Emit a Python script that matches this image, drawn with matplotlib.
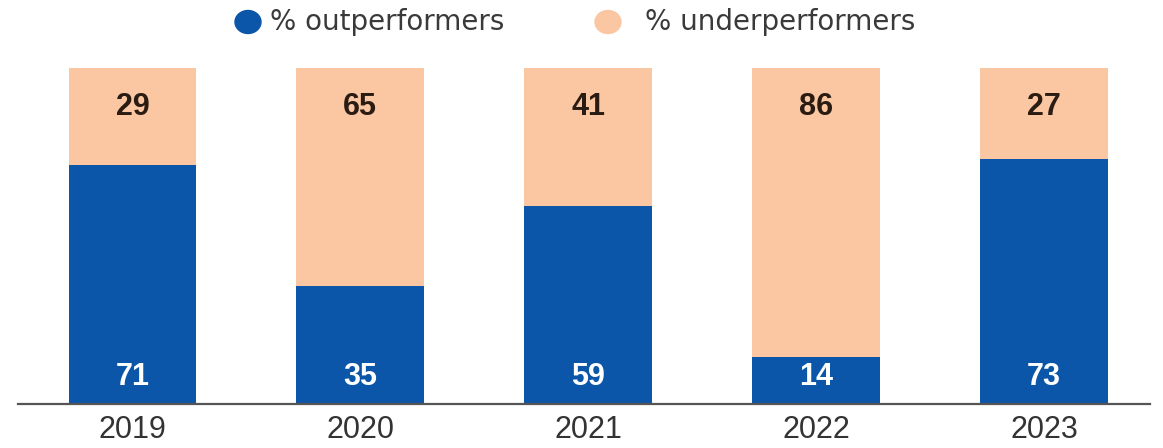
import matplotlib
matplotlib.use("Agg")
import matplotlib.pyplot as plt

# share of outperformers vs underperformers per year
years = ["2019", "2020", "2021", "2022", "2023"]
outperformers = [71, 35, 59, 14, 73]
underperformers = [29, 65, 41, 86, 27]

BLUE = "#0b56a9"
PEACH = "#fbc7a2"

fig = plt.figure(figsize=(11.63, 4.48), dpi=100)
ax = fig.add_axes([18 / 1163, 1 - 404 / 448, (1150 - 18) / 1163, (404 - 68) / 448])

x = range(len(years))
w = 0.56
ax.bar(x, outperformers, width=w, color=BLUE, linewidth=0)
ax.bar(x, underperformers, width=w, bottom=outperformers, color=PEACH, linewidth=0)

for i in x:
    ax.text(i, 7.9, str(outperformers[i]), ha="center", va="center",
            fontsize=22, fontweight="bold", color="white", family="Liberation Sans")
    ax.text(i, 88.4, str(underperformers[i]), ha="center", va="center",
            fontsize=22, fontweight="bold", color="#2a1c12", family="Liberation Sans")

ax.set_xlim(-0.502, 4.465)
ax.set_ylim(0, 100)
ax.set_xticks(list(x))
ax.set_xticklabels(years, fontsize=22, color="#333333", family="Liberation Sans")
ax.tick_params(axis="x", length=0, pad=8)
ax.set_yticks([])
for side in ["top", "right", "left"]:
    ax.spines[side].set_visible(False)
ax.spines["bottom"].set_color("#555555")
ax.spines["bottom"].set_linewidth(1.6)

# legend drawn by hand at the top
ly = 1 - 22 / 448
fig.patches.append(matplotlib.patches.Ellipse((248 / 1163, ly), 26 / 1163, 23 / 448,
                                              transform=fig.transFigure, color=BLUE))
fig.patches.append(matplotlib.patches.Ellipse((608 / 1163, ly), 26 / 1163, 23 / 448,
                                              transform=fig.transFigure, color=PEACH))
fig.text(270 / 1163, ly, "% outperformers", ha="left", va="center",
         fontsize=20, color="#3a3a3a", family="DejaVu Sans")
fig.text(645 / 1163, ly, "% underperformers", ha="left", va="center",
         fontsize=20, color="#3a3a3a", family="DejaVu Sans")

fig.savefig("out.png", dpi=100, facecolor="white")
